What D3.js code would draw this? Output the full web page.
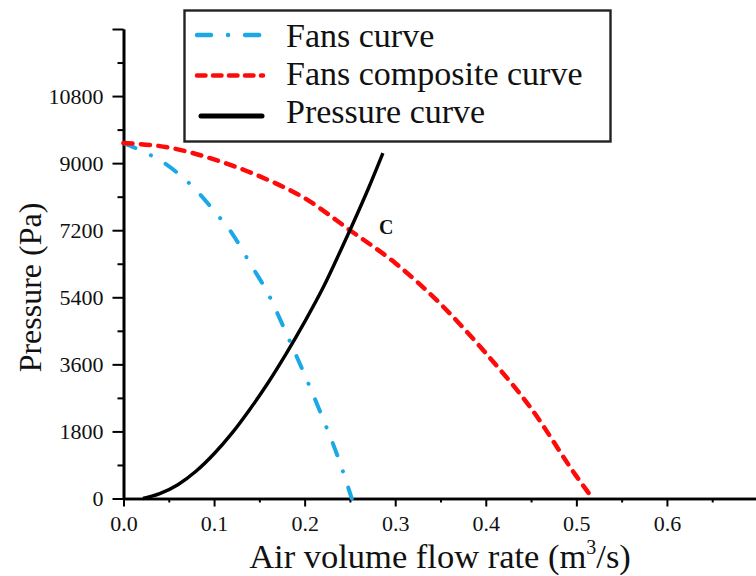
<!DOCTYPE html>
<html>
<head>
<meta charset="utf-8">
<script src="https://cdn.jsdelivr.net/npm/d3@7/dist/d3.min.js"></script>
<style>
  html, body { margin: 0; padding: 0; background: #fff; }
  svg { display: block; }
  text { font-family: "Liberation Serif", "Times New Roman", serif; fill: #111; }
</style>
</head>
<body>
<svg id="chart" width="756" height="576"></svg>
<script>
const SERIF = '"Liberation Serif", "Times New Roman", serif';

// Single fan curve: air volume flow rate (m3/s) vs pressure (Pa)
const fanFlow = [0, 0.02, 0.04, 0.06, 0.08, 0.10, 0.12, 0.14, 0.16, 0.18, 0.20, 0.22, 0.24, 0.252];
const fanPressure = [9540, 9330, 9080, 8730, 8280, 7720, 7110, 6300, 5480, 4420, 3320, 2160, 890, 0];

// Composite curve of the fans working together
const compositeFlow = [0, 0.05, 0.10, 0.15, 0.20, 0.25, 0.30, 0.35, 0.40, 0.45, 0.50, 0.518];
const compositePressure = [9540, 9420, 9100, 8650, 8060, 7200, 6320, 5220, 3900, 2420, 600, 0];

// System pressure curve
const systemFlow = [0.0215, 0.04, 0.06, 0.08, 0.10, 0.12, 0.14, 0.16, 0.18, 0.20, 0.22, 0.24, 0.25, 0.27, 0.2864];
const systemPressure = [0, 130, 370, 730, 1200, 1760, 2410, 3120, 3900, 4740, 5640, 6670, 7200, 8300, 9270];

// Operating point where the composite curve meets the pressure curve
const operatingPoint = { label: "C", flow: 0.25, pressure: 7200 };

// Axis ticks
const yMajorTicks = [0, 1800, 3600, 5400, 7200, 9000, 10800, 12600];
const yMinorTicks = [900, 2700, 4500, 6300, 8100, 9900, 11700];
const xMajorTicks = [0, 0.1, 0.2, 0.3, 0.4, 0.5, 0.6];
const xMinorTicks = [0.05, 0.15, 0.25, 0.35, 0.45, 0.55, 0.65];

const legendLabels = ["Fans curve", "Fans composite curve", "Pressure curve"];
const seriesColors = ["#1aa9e6", "#ff0a0a", "#000000"];

const svg = d3.select("#chart");

const x = d3.scaleLinear().domain([0, 0.7]).range([123.5, 757.5]);
const y = d3.scaleLinear().domain([0, 12600]).range([498.5, 29]);

// ---- axes ----
const xMinorAxis = d3.axisBottom(x).tickValues(xMinorTicks).tickSize(4).tickSizeOuter(0).tickFormat("");
const xMajorAxis = d3.axisBottom(x).tickValues(xMajorTicks).tickSize(8).tickSizeOuter(0)
  .tickFormat(d3.format(".1f")).tickPadding(9);
const yMinorAxis = d3.axisLeft(y).tickValues(yMinorTicks).tickSize(6).tickSizeOuter(0).tickFormat("");
const yMajorAxis = d3.axisLeft(y).tickValues(yMajorTicks).tickSize(11).tickSizeOuter(0)
  .tickFormat(d => d === 12600 ? "" : d).tickPadding(9);

function styleAxis(g) {
  g.attr("font-family", SERIF).attr("font-size", 22);
  g.select(".domain").attr("stroke", "#000").attr("stroke-width", 2.6);
  g.selectAll(".tick line").attr("stroke", "#000").attr("stroke-width", 2);
  g.selectAll(".tick text").attr("font-family", SERIF).attr("font-size", 22).attr("fill", "#111");
}

svg.append("g").attr("transform", `translate(0,${y(0)})`).call(xMinorAxis).call(styleAxis);
svg.append("g").attr("transform", `translate(0,${y(0)})`).call(xMajorAxis).call(styleAxis);
svg.append("g").attr("transform", `translate(${x(0)},0)`).call(yMinorAxis).call(styleAxis);
svg.append("g").attr("transform", `translate(${x(0)},0)`).call(yMajorAxis).call(styleAxis);

// Axis titles
const xTitle = svg.append("text")
  .attr("x", 440).attr("y", 568)
  .attr("text-anchor", "middle")
  .attr("font-family", SERIF)
  .attr("font-size", 34.5);
xTitle.append("tspan").text("Air volume flow rate (m");
xTitle.append("tspan").attr("dy", -14).attr("font-size", 20).text("3");
xTitle.append("tspan").attr("dy", 14).text("/s)");

svg.append("text")
  .attr("transform", "translate(40.5,287.5) rotate(-90)")
  .attr("text-anchor", "middle")
  .attr("font-family", SERIF)
  .attr("font-size", 32)
  .text("Pressure (Pa)");

// ---- curves ----
const line = d3.line().x(d => x(d[0])).y(d => y(d[1])).curve(d3.curveMonotoneX);

const curves = [
  { flow: fanFlow, pressure: fanPressure, color: seriesColors[0], width: 4, dash: "13 17 0.1 17", cap: "round" },
  { flow: compositeFlow, pressure: compositePressure, color: seriesColors[1], width: 4.5, dash: "9 8.5", cap: "round" },
  { flow: systemFlow, pressure: systemPressure, color: seriesColors[2], width: 3.4, dash: null, cap: "butt" }
];

curves.forEach(c => {
  const pts = c.flow.map((q, i) => [q, c.pressure[i]]);
  svg.append("path")
    .datum(pts)
    .attr("d", line)
    .attr("fill", "none")
    .attr("stroke", c.color)
    .attr("stroke-width", c.width)
    .attr("stroke-linecap", c.cap)
    .attr("stroke-dasharray", c.dash);
});

// Operating point label
svg.append("text")
  .attr("x", x(operatingPoint.flow) + 29)
  .attr("y", y(operatingPoint.pressure) + 4)
  .attr("font-family", SERIF)
  .attr("font-size", 20)
  .attr("font-weight", "bold")
  .text(operatingPoint.label);

// ---- legend ----
const legend = svg.append("g");
legend.append("rect")
  .attr("x", 184.5).attr("y", 10.5)
  .attr("width", 426).attr("height", 131)
  .attr("fill", "#fff").attr("stroke", "#222").attr("stroke-width", 2.4);

legendLabels.forEach((label, i) => {
  const c = curves[i];
  const ly = 35 + i * 40.5;
  legend.append("line")
    .attr("x1", i === 2 ? 201 : 197).attr("x2", i === 2 ? 262 : 263)
    .attr("y1", ly).attr("y2", ly)
    .attr("stroke", c.color)
    .attr("stroke-width", i === 2 ? 5 : 4.5)
    .attr("stroke-linecap", "round")
    .attr("stroke-dasharray", i === 0 ? "14 17 0.1 17" : (i === 1 ? "8.5 7.5" : null));
  legend.append("text")
    .attr("x", 286).attr("y", 46.5 + i * 38.25)
    .attr("font-family", SERIF)
    .attr("font-size", 34)
    .text(label);
});
</script>
</body>
</html>
